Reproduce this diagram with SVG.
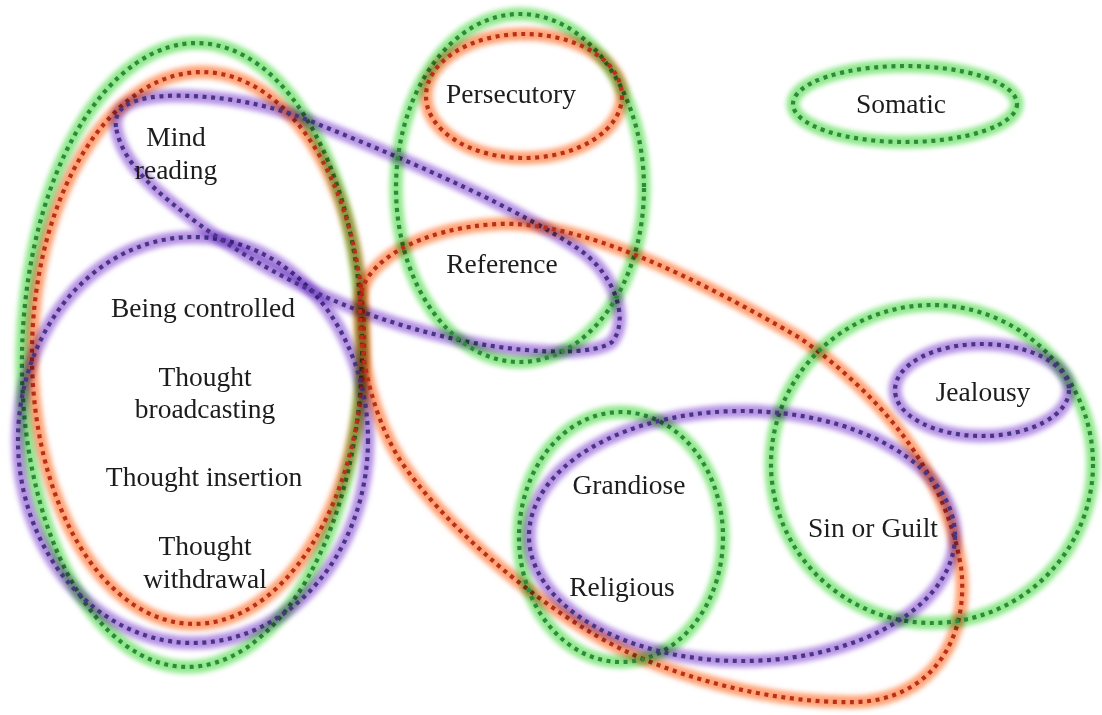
<svg xmlns="http://www.w3.org/2000/svg" width="1102" height="715" viewBox="0 0 1102 715">
<style>
.h{fill:none;stroke-width:13;filter:url(#soft);mix-blend-mode:multiply}
.d{fill:none;stroke-width:4.2;stroke-dasharray:4 4.6}
.g .h{stroke:#90e88c}
.g .d{stroke:#2c8a3a}
.o .h{stroke:#ffa274}
.o .d{stroke:#b8301c}
.p .h{stroke:#b693e4}
.p .d{stroke:#4a3585}
text{font-family:"Liberation Serif","Times New Roman",serif;font-size:27.5px;fill:#1c1c1c;text-anchor:middle}
</style>
<defs>
<filter id="soft" x="-20%" y="-20%" width="140%" height="140%"><feGaussianBlur stdDeviation="2.8"/></filter>
<ellipse id="eGL" cx="192" cy="355" rx="170" ry="312" transform="rotate(1.2 192 355)"/>
<ellipse id="eOL" cx="198" cy="348" rx="166" ry="276" transform="rotate(1.2 198 348)"/>
<ellipse id="ePL" cx="193" cy="440" rx="175" ry="203"/>
<path id="eMR" d="M116,127 C112,100 150,94 190,96 C240,98 280,108 320,125 C420,165 520,210 580,250 C615,275 630,320 612,342 C590,358 510,352 450,338 C350,315 270,275 200,225 C160,195 122,165 116,127 Z"/>
<ellipse id="ePer" cx="524" cy="96" rx="98" ry="62"/>
<ellipse id="eGPR" cx="520" cy="188" rx="124" ry="174"/>
<ellipse id="eSom" cx="905" cy="104" rx="112" ry="38"/>
<path id="eBig" d="M360,300 C362,262 420,228 498,224 C580,220 700,280 800,338 C880,395 945,470 961,567 C970,640 930,700 856,702 C770,704 660,675 590,632 C520,590 440,520 400,460 C375,420 358,360 360,300 Z"/>
<ellipse id="eGSG" cx="932" cy="464" rx="161" ry="159"/>
<ellipse id="eJea" cx="982" cy="390" rx="87" ry="46"/>
<ellipse id="eGR" cx="621" cy="537" rx="102" ry="125"/>
<ellipse id="ePGS" cx="742" cy="536" rx="213" ry="125"/>
</defs>
<rect width="1102" height="715" fill="#fff"/>
<g id="set-green-left" class="g"><use href="#eGL" class="h"/><use href="#eGL" class="d"/></g>
<g id="set-orange-left" class="o"><use href="#eOL" class="h"/><use href="#eOL" class="d"/></g>
<g id="set-purple-left" class="p"><use href="#ePL" class="h"/><use href="#ePL" class="d"/></g>
<g id="set-purple-mind" class="p"><use href="#eMR" class="h"/><use href="#eMR" class="d"/></g>
<g id="set-green-persref" class="g"><use href="#eGPR" class="h"/><use href="#eGPR" class="d"/></g>
<g id="set-orange-pers" class="o"><use href="#ePer" class="h"/><use href="#ePer" class="d"/></g>
<g id="set-green-somatic" class="g"><use href="#eSom" class="h"/><use href="#eSom" class="d"/></g>
<g id="set-orange-big" class="o"><use href="#eBig" class="h"/><use href="#eBig" class="d"/></g>
<g id="set-green-sin" class="g"><use href="#eGSG" class="h"/><use href="#eGSG" class="d"/></g>
<g id="set-purple-jealousy" class="p"><use href="#eJea" class="h"/><use href="#eJea" class="d"/></g>
<g id="set-green-grand" class="g"><use href="#eGR" class="h"/><use href="#eGR" class="d"/></g>
<g id="set-purple-grandsin" class="p"><use href="#ePGS" class="h"/><use href="#ePGS" class="d"/></g>
<g id="labels">
<g id="n-persecutory"><text x="511" y="103">Persecutory</text></g>
<g id="n-somatic"><text x="901" y="113">Somatic</text></g>
<g id="n-mind"><text x="176" y="146">Mind</text><text x="176" y="179">reading</text></g>
<g id="n-reference"><text x="502" y="273">Reference</text></g>
<g id="n-controlled"><text x="203" y="317">Being controlled</text></g>
<g id="n-broadcasting"><text x="205" y="386">Thought</text><text x="205" y="418">broadcasting</text></g>
<g id="n-insertion"><text x="204" y="486">Thought insertion</text></g>
<g id="n-withdrawal"><text x="205" y="555">Thought</text><text x="205" y="588">withdrawal</text></g>
<g id="n-jealousy"><text x="983" y="401">Jealousy</text></g>
<g id="n-grandiose"><text x="629" y="494">Grandiose</text></g>
<g id="n-sin"><text x="873" y="537">Sin or Guilt</text></g>
<g id="n-religious"><text x="622" y="596">Religious</text></g>
</g>
</svg>
